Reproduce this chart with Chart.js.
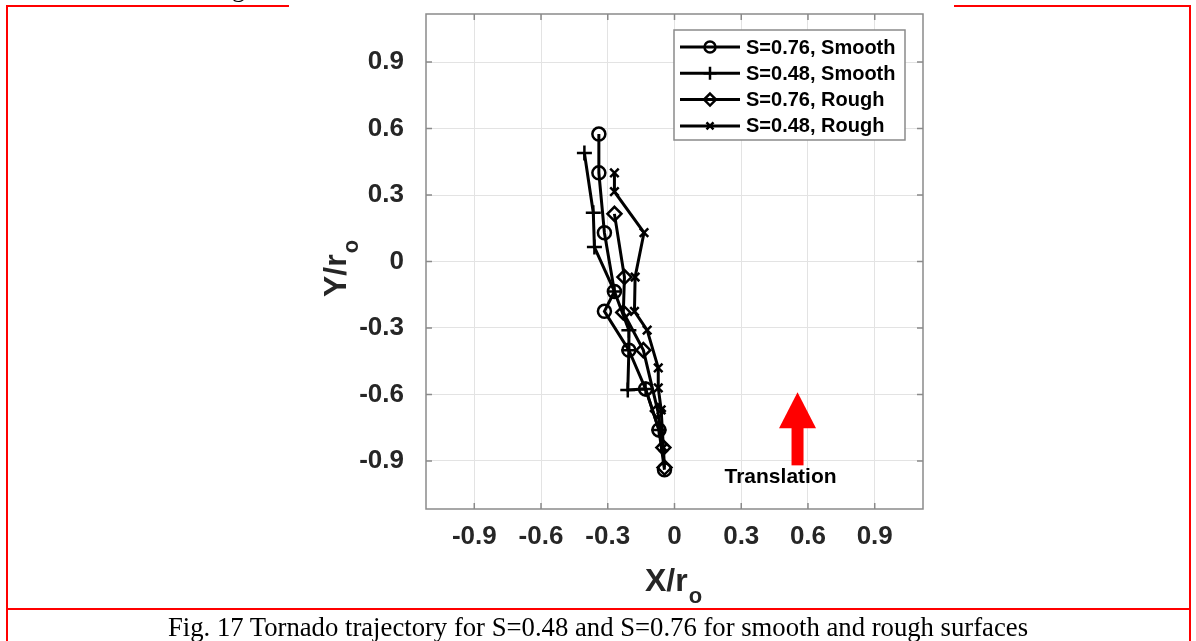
<!DOCTYPE html>
<html>
<head>
<meta charset="utf-8">
<script src="https://cdn.jsdelivr.net/npm/chart.js@4.4.0/dist/chart.umd.min.js"></script>
<style>
  html, body { margin: 0; padding: 0; background: #fff; }
  #wrap { position: relative; width: 1196px; height: 641px; overflow: hidden; }
  #plot { position: absolute; left: 0; top: 0; }
  .rule { position: absolute; background: #ff0000; }
  .serif { font-family: "Liberation Serif", "Times New Roman", serif; color: #000; }
  #caption {
    position: absolute; left: 0; top: 612px; width: 1196px; text-align: center; line-height: 1.15;
    font-size: 26.7px;
  }
  #above { position: absolute; left: 232px; top: -24px; font-size: 26px; line-height: 1; }
</style>
</head>
<body>
<div id="wrap">
  <canvas id="plot" width="1196" height="641"></canvas>
  <div id="above" class="serif">g</div>
  <div class="rule" style="left:6px; top:5px; width:283px; height:2px;"></div>
  <div class="rule" style="left:954px; top:5px; width:237px; height:2px;"></div>
  <div class="rule" style="left:6px; top:5px; width:2px; height:640px;"></div>
  <div class="rule" style="left:1189px; top:5px; width:2px; height:640px;"></div>
  <div class="rule" style="left:6px; top:608px; width:1185px; height:2px;"></div>
  <div id="caption" class="serif">Fig. 17 Tornado trajectory for S=0.48 and S=0.76 for smooth and rough surfaces</div>
</div>
<script>
// tick positions shared by both axes
const tickValues = [-0.9, -0.6, -0.3, 0, 0.3, 0.6, 0.9];

// S=0.76, smooth surface
const xS076Smooth = [-0.34, -0.34, -0.315, -0.27, -0.315, -0.205, -0.13, -0.07, -0.045];
const yS076Smooth = [0.575, 0.40, 0.13, -0.135, -0.225, -0.40, -0.575, -0.76, -0.94];

// S=0.48, smooth surface
const xS048Smooth = [-0.405, -0.365, -0.36, -0.27, -0.205, -0.205, -0.21, -0.13, -0.07];
const yS048Smooth = [0.49, 0.22, 0.065, -0.135, -0.31, -0.40, -0.58, -0.575, -0.76];

// S=0.76, rough surface
const xS076Rough = [-0.27, -0.225, -0.23, -0.14, -0.075, -0.05, -0.045];
const yS076Rough = [0.215, -0.07, -0.23, -0.40, -0.675, -0.84, -0.93];

// S=0.48, rough surface
const xS048Rough = [-0.27, -0.27, -0.137, -0.177, -0.18, -0.123, -0.073, -0.073, -0.06, -0.05];
const yS048Rough = [0.40, 0.315, 0.13, -0.07, -0.225, -0.31, -0.48, -0.57, -0.67, -0.84];

const seriesNames = ["S=0.76, Smooth", "S=0.48, Smooth", "S=0.76, Rough", "S=0.48, Rough"];
const markers = ["circle", "cross", "rectRot", "crossRot"];
const markerSize = [6.5, 7.5, 7, 6];

// red "Translation" arrow, in data units
const arrowX = 0.553;
const arrowTip = -0.59;
const arrowBase = -0.92;

function pts(xs, ys) {
  return xs.map((x, i) => ({ x: x, y: ys[i] }));
}

const allX = [xS076Smooth, xS048Smooth, xS076Rough, xS048Rough];
const allY = [yS076Smooth, yS048Smooth, yS076Rough, yS048Rough];

const datasets = seriesNames.map((name, i) => ({
  label: name,
  data: pts(allX[i], allY[i]),
  borderColor: "#000",
  borderWidth: 3,
  pointStyle: markers[i],
  pointRadius: markerSize[i],
  pointBorderColor: "#000",
  pointBackgroundColor: "rgba(0,0,0,0)",
  pointBorderWidth: 2.5,
  tension: 0,
  fill: false,
  clip: false
}));

function drawMarker(ctx, style, r, x, y) {
  ctx.beginPath();
  if (style === "circle") {
    ctx.arc(x, y, r, 0, Math.PI * 2);
  } else if (style === "cross") {
    ctx.moveTo(x - r, y); ctx.lineTo(x + r, y);
    ctx.moveTo(x, y - r); ctx.lineTo(x, y + r);
  } else if (style === "rectRot") {
    ctx.moveTo(x, y - r); ctx.lineTo(x + r, y); ctx.lineTo(x, y + r); ctx.lineTo(x - r, y); ctx.closePath();
  } else {
    ctx.moveTo(x - r * 0.7, y - r * 0.7); ctx.lineTo(x + r * 0.7, y + r * 0.7);
    ctx.moveTo(x + r * 0.7, y - r * 0.7); ctx.lineTo(x - r * 0.7, y + r * 0.7);
  }
  ctx.stroke();
}

// box, inner ticks, axis titles, legend and the translation arrow
const decorations = {
  id: "decorations",
  afterDraw(chart) {
    const ctx = chart.ctx;
    const a = chart.chartArea;
    const xs = chart.scales.x;
    const ys = chart.scales.y;
    ctx.save();

    // axes box with inward ticks
    ctx.strokeStyle = "#8a8a8a";
    ctx.lineWidth = 1.5;
    ctx.strokeRect(a.left, a.top, a.right - a.left, a.bottom - a.top);
    ctx.beginPath();
    tickValues.forEach(v => {
      const px = xs.getPixelForValue(v);
      ctx.moveTo(px, a.bottom); ctx.lineTo(px, a.bottom - 6);
      ctx.moveTo(px, a.top); ctx.lineTo(px, a.top + 6);
      const py = ys.getPixelForValue(v);
      ctx.moveTo(a.left, py); ctx.lineTo(a.left + 6, py);
      ctx.moveTo(a.right, py); ctx.lineTo(a.right - 6, py);
    });
    ctx.stroke();

    // axis titles with subscript o
    ctx.fillStyle = "#262626";
    ctx.textBaseline = "alphabetic";
    ctx.textAlign = "left";
    ctx.font = "bold 32px 'Liberation Sans', Arial, sans-serif";
    const xw = ctx.measureText("X/r").width;
    ctx.fillText("X/r", 645, 591);
    ctx.font = "bold 22px 'Liberation Sans', Arial, sans-serif";
    ctx.fillText("o", 645 + xw + 1, 603);

    ctx.save();
    ctx.translate(346, 297);
    ctx.rotate(-Math.PI / 2);
    ctx.font = "bold 32px 'Liberation Sans', Arial, sans-serif";
    const yw = ctx.measureText("Y/r").width;
    ctx.fillText("Y/r", 0, 0);
    ctx.font = "bold 22px 'Liberation Sans', Arial, sans-serif";
    ctx.fillText("o", yw + 1, 12);
    ctx.restore();

    // legend
    const lx = 674, ly = 30, lw = 231, lh = 110;
    ctx.fillStyle = "#fff";
    ctx.fillRect(lx, ly, lw, lh);
    ctx.strokeStyle = "#8a8a8a";
    ctx.lineWidth = 1.5;
    ctx.strokeRect(lx, ly, lw, lh);
    ctx.font = "bold 20px 'Liberation Sans', Arial, sans-serif";
    ctx.textBaseline = "middle";
    ctx.textAlign = "left";
    seriesNames.forEach((name, i) => {
      const y = ly + 17 + i * 26.3;
      ctx.strokeStyle = "#000";
      ctx.lineWidth = 3;
      ctx.beginPath();
      ctx.moveTo(lx + 6, y); ctx.lineTo(lx + 66, y);
      ctx.stroke();
      ctx.lineWidth = 2.5;
      drawMarker(ctx, markers[i], markerSize[i] - 1, lx + 36, y);
      ctx.fillStyle = "#000";
      ctx.fillText(name, lx + 72, y + 1);
    });

    // translation arrow
    const ax = xs.getPixelForValue(arrowX);
    const tip = ys.getPixelForValue(arrowTip);
    const base = ys.getPixelForValue(arrowBase);
    const headBase = tip + 36;
    ctx.fillStyle = "#ff0000";
    ctx.fillRect(ax - 6, headBase - 1, 12, base - headBase + 1);
    ctx.beginPath();
    ctx.moveTo(ax, tip);
    ctx.lineTo(ax + 18.5, headBase);
    ctx.lineTo(ax - 18.5, headBase);
    ctx.closePath();
    ctx.fill();
    ctx.fillStyle = "#000";
    ctx.font = "bold 21px 'Liberation Sans', Arial, sans-serif";
    ctx.textAlign = "center";
    ctx.textBaseline = "alphabetic";
    ctx.fillText("Translation", ax - 17, base + 18);

    ctx.restore();
  }
};

new Chart(document.getElementById("plot"), {
  type: "line",
  data: { datasets: datasets },
  options: {
    responsive: false,
    animation: false,
    layout: { padding: { left: 0, right: 273, top: 14, bottom: 0 } },
    plugins: { legend: { display: false }, tooltip: { enabled: false } },
    scales: {
      x: {
        type: "linear",
        min: -1.117,
        max: 1.117,
        afterBuildTicks: s => { s.ticks = tickValues.map(v => ({ value: v })); },
        afterFit: s => { s.height = 132; s.paddingLeft = 0; s.paddingRight = 0; },
        grid: { color: "#e3e3e3", lineWidth: 1, drawTicks: false },
        border: { display: false },
        ticks: {
          padding: 12,
          color: "#262626",
          font: { family: "'Liberation Sans', Arial, sans-serif", size: 26, weight: "bold" },
          callback: v => String(v)
        }
      },
      y: {
        type: "linear",
        min: -1.117,
        max: 1.117,
        afterBuildTicks: s => { s.ticks = tickValues.map(v => ({ value: v })); },
        afterFit: s => { s.width = 426; s.paddingTop = 0; s.paddingBottom = 0; },
        grid: { color: "#e3e3e3", lineWidth: 1, drawTicks: false },
        border: { display: false },
        ticks: {
          padding: 22,
          color: "#262626",
          font: { family: "'Liberation Sans', Arial, sans-serif", size: 26, weight: "bold" },
          callback: v => String(v)
        }
      }
    }
  },
  plugins: [decorations]
});
</script>
</body>
</html>
